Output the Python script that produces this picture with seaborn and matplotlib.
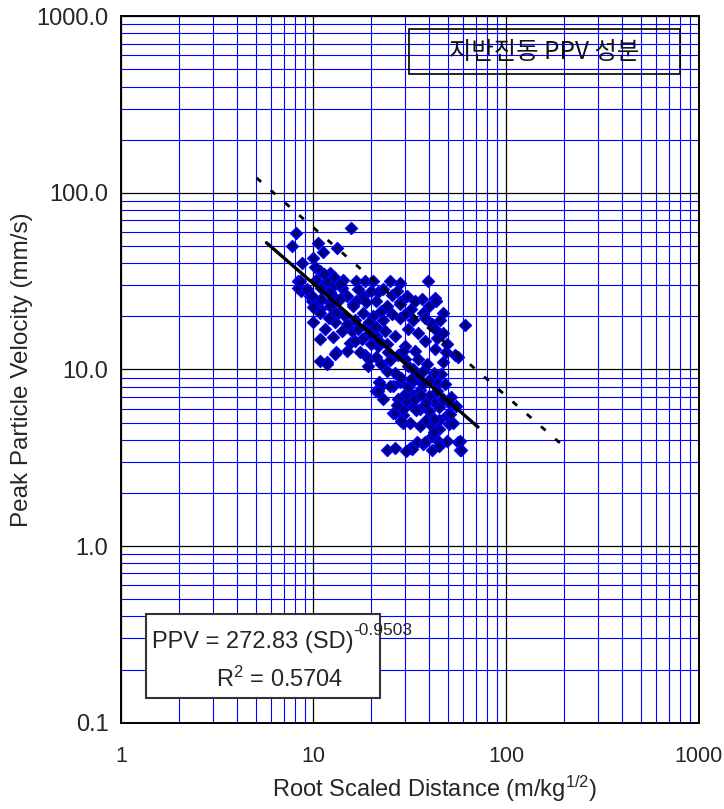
import numpy as np
import pandas as pd
import matplotlib
matplotlib.use("Agg")
import matplotlib.pyplot as plt
from matplotlib.ticker import LogLocator, NullFormatter
from matplotlib.patches import Rectangle
import seaborn as sns

# scaled distance (m/kg^0.5) and PPV (mm/s)
sd = [8.1, 15.7, 7.7, 10.5, 13.3, 11.2, 10.0, 8.7, 10.2, 10.8, 12.2, 10.3, 11.7, 12.6,
      11.0, 8.3, 8.6, 9.6, 14.3, 16.7, 18.5, 20.3, 12.2, 13.1, 10.8, 18.0, 20.0, 15.0,
      25.0, 28.0, 39.5, 21.5, 21.0, 28.0, 36.5, 43.0,
      61.0, 54.0, 47.0, 56.0, 49.0, 47.0,
      28.0, 32.0, 43.5, 23.0, 28.0, 41.0, 35.0, 26.5, 31.0, 38.0, 44.0, 30.0, 33.5, 42.5,
      21.5, 24.5, 35.0, 39.0, 31.0, 26.5, 22.5, 46.0, 35.0, 44.0,
      10.0, 10.8, 12.6, 10.8, 11.7, 13.1, 15.4, 14.0, 15.8, 13.4, 9.8, 10.8, 12.2, 16.0,
      18.0, 18.8, 17.8, 15.0, 18.5, 19.2, 20.0, 21.0, 20.3, 16.7, 12.9, 11.8,
      22.0, 21.0, 26.0, 29.0, 31.6, 35.6, 40.0, 43.0, 26.0, 29.0, 31.6, 35.6, 38.6, 41.0,
      45.0, 49.6, 50.8, 41.0, 45.0, 49.6, 56.0, 57.5, 41.0, 37.0, 31.6, 34.4, 45.0, 35.6,
      40.0, 45.0, 50.8, 33.0, 30.4, 23.0, 28.0, 33.0, 37.0, 47.0, 52.0,
      30.4, 33.5, 51.0, 53.0, 57.5, 58.6, 32.3, 42.0, 45.0, 38.0, 42.0, 29.0,
      22.5, 25.0, 27.5, 26.5, 28.5, 30.4, 21.6, 29.0, 24.0, 26.5,
      8.3, 9.2, 8.5, 9.8, 10.0, 10.8, 11.0, 12.2, 13.1, 13.7, 16.0, 18.8,
      16.5, 19.5, 17.0, 22.5, 24.0, 25.5, 23.5, 19.5, 22.0, 24.0, 37.0, 40.0, 33.0, 30.0,
      38.0, 43.0, 45.5, 47.0, 31.0, 36.0, 38.5, 34.0, 27.0, 24.0, 28.5, 30.0, 33.0, 27.5,
      25.0, 29.0, 32.0, 37.0, 42.0, 40.0, 55.0, 48.0, 44.0, 49.5, 13.0, 14.5, 12.0, 11.5,
      15.0, 16.5, 17.5, 19.5, 21.0, 21.0,
      33.5, 30.5, 25.5, 23.0, 27.0, 14.0, 17.0, 12.8, 11.3, 13.7]
ppv = [59.0, 63.0, 50.0, 52.0, 49.0, 46.0, 43.0, 40.0, 38.0, 36.0, 35.0, 32.3, 31.5, 29.5,
       29.0, 31.5, 28.0, 26.0, 32.0, 31.5, 31.5, 31.5, 27.5, 25.0, 24.5, 26.0, 28.0, 26.0,
       31.5, 31.0, 31.5, 27.5, 24.5, 24.0, 25.0, 25.5,
       17.8, 12.0, 21.0, 11.7, 12.5, 11.0,
       23.5, 22.0, 24.3, 19.0, 19.5, 18.0, 16.0, 15.5, 17.0, 14.5, 15.0, 13.5, 12.7, 13.0,
       13.5, 12.5, 11.4, 10.7, 10.4, 9.6, 10.7, 9.4, 9.2, 8.4,
       18.5, 14.8, 15.2, 11.2, 11.0, 12.5, 14.2, 16.5, 16.5, 21.0, 24.5, 22.0, 24.0, 23.4,
       21.0, 17.6, 14.8, 12.7, 12.0, 10.4, 13.9, 15.5, 20.0, 24.4, 12.2, 10.8,
       8.5, 7.6, 8.1, 7.1, 7.4, 7.7, 7.1, 6.5, 5.7, 5.5, 5.0, 4.8, 5.2, 4.8,
       5.2, 5.5, 4.9, 4.2, 3.9, 3.95, 3.9, 3.5, 3.5, 3.8, 3.6, 3.87, 4.6, 6.0,
       5.8, 6.1, 6.5, 6.2, 6.6, 6.8, 8.45, 8.6, 8.25, 6.8, 7.0,
       7.25, 6.8, 5.6, 5.0, 3.95, 3.5, 3.55, 4.4, 3.7, 3.87, 5.25, 5.0,
       8.1, 8.1, 6.8, 5.7, 5.1, 3.47, 7.6, 6.0, 3.5, 3.6,
       29.0, 28.4, 31.5, 26.0, 22.5, 21.0, 24.9, 23.0, 21.0, 25.0, 23.0, 24.0,
       19.0, 18.5, 17.0, 21.5, 23.0, 20.5, 16.5, 16.0, 14.5, 14.0, 21.0, 23.0, 19.0, 20.5,
       19.5, 17.0, 19.0, 16.0, 8.0, 7.2, 6.5, 5.9, 6.3, 9.8, 9.0, 11.5, 10.0, 12.0,
       11.3, 12.7, 8.8, 9.8, 9.6, 8.7, 6.2, 8.3, 7.6, 13.9, 18.5, 20.0, 19.5, 17.0,
       18.0, 14.5, 12.5, 11.5, 11.8, 17.5,
       24.3, 26.0, 26.5, 28.5, 28.0, 29.0, 28.5, 33.5, 34.5, 30.5]

# regression line end points and the dashed upper line
fit_x = [5.7, 71.5]
fit_y = [52.2, 4.72]
upper_x = [5.06, 195.0]
upper_y = [121.6, 3.75]

x_ticks = [1, 10, 100, 1000]
x_labels = ["1", "10", "100", "1000"]
y_ticks = [0.1, 1, 10, 100, 1000]
y_labels = ["0.1", "1.0", "10.0", "100.0", "1000.0"]

equation = "PPV = 272.83 (SD)"
exponent = "-0.9503"
r2_text = "R$^2$ = 0.5704"
legend_text = "지반진동 PPV 성분"

sns.set_style("white")
plt.rcParams['font.family'] = ['Liberation Sans', 'Noto Sans CJK KR', 'DejaVu Sans']
plt.rcParams['mathtext.fontset'] = 'custom'
plt.rcParams['mathtext.rm'] = 'Liberation Sans'
plt.rcParams['mathtext.it'] = 'Liberation Sans:italic'

df = pd.DataFrame({'sd': sd, 'ppv': ppv})

fig = plt.figure(figsize=(7.24, 8.09), dpi=100)
ax = fig.add_axes([0.167, 0.1067, 0.798, 0.8732])

sns.scatterplot(data=df, x='sd', y='ppv', marker='D', s=38, color='#000080',
                edgecolor='#0000FF', linewidth=0.9, ax=ax, zorder=4)
ax.plot(fit_x, fit_y, color='black', lw=2.4, zorder=5)
ax.plot(upper_x, upper_y, color='black', lw=2.0, linestyle=(0, (2.2, 4.6)), zorder=5)

ax.set_xscale('log')
ax.set_yscale('log')
ax.set_xlim(1, 1000)
ax.set_ylim(0.1, 1000)
ax.set_xticks(x_ticks)
ax.set_xticklabels(x_labels)
ax.set_yticks(y_ticks)
ax.set_yticklabels(y_labels)
for axis in (ax.xaxis, ax.yaxis):
    axis.set_minor_locator(LogLocator(base=10, subs=np.arange(2, 10), numticks=20))
    axis.set_minor_formatter(NullFormatter())

ax.set_axisbelow(True)
ax.grid(which='major', color='black', lw=0.9)
ax.grid(which='minor', color='#0000FF', lw=0.8)
ax.tick_params(which='both', direction='in', color='black')
ax.tick_params(which='major', length=5)
ax.tick_params(which='minor', length=3)
ax.tick_params(axis='x', which='major', pad=17, labelsize=15.5)
ax.tick_params(axis='y', which='major', pad=9, labelsize=17)
for sp in ax.spines.values():
    sp.set_color('black')
    sp.set_linewidth(1.4)

ax.set_xlabel("Root Scaled Distance (m/kg$^{1/2}$)", fontsize=17)
ax.set_ylabel("Peak Particle Velocity (mm/s)", fontsize=17.5)
ax.xaxis.set_label_coords(0.543, -0.072)
ax.yaxis.set_label_coords(-0.152, 0.5)

# equation box
ax.add_patch(Rectangle((0.0433, 0.0345), 0.405, 0.119, transform=ax.transAxes,
                       facecolor='white', edgecolor='#333333', lw=1.5, zorder=6))
ax.text(0.053, 0.1147, equation, transform=ax.transAxes, fontsize=17,
        ha='left', va='center', zorder=7)
ax.text(0.403, 0.131, exponent, transform=ax.transAxes, fontsize=12.5,
        ha='left', va='center', zorder=7)
ax.text(0.275, 0.062, r2_text, transform=ax.transAxes, fontsize=17,
        ha='center', va='center', zorder=7)

# legend-like label box
ax.add_patch(Rectangle((0.4988, 0.9183), 0.4682, 0.0633, transform=ax.transAxes,
                       facecolor='none', edgecolor='black', lw=1.2, zorder=6))
ax.text(0.7327, 0.950, legend_text, transform=ax.transAxes, fontsize=17.5,
        family=['Noto Sans CJK KR', 'DejaVu Sans'], color='#111111',
        ha='center', va='center', zorder=7)

fig.savefig('out.png', dpi=100)
